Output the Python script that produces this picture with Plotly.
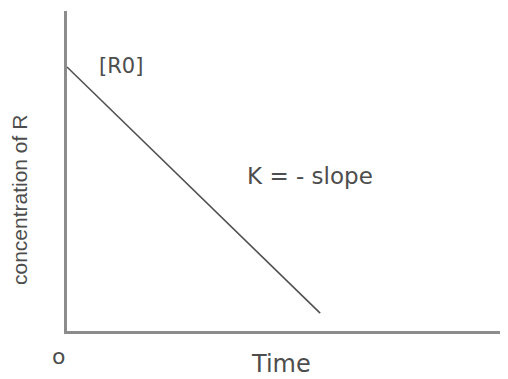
import plotly.graph_objects as go

time = [0, 5.74]
concentration = [8.25, 0.56]
x_range = [0, 10]
y_range = [0, 10]

fig = go.Figure()
fig.add_trace(go.Scatter(x=time, y=concentration, mode="lines",
                         line=dict(color="#505050", width=1.6),
                         showlegend=False, hoverinfo="skip"))

font = dict(family="DejaVu Sans, Liberation Sans, Arial, sans-serif", size=22, color="#4d4d4d")

fig.update_layout(
    width=500, height=371,
    margin=dict(l=59, r=0, t=3, b=48, pad=0),
    paper_bgcolor="white", plot_bgcolor="white",
    font=font,
    xaxis=dict(range=x_range, showgrid=False, zeroline=False, showticklabels=False,
               ticks="", showline=True, linecolor="#8c8c8c", linewidth=3),
    yaxis=dict(range=y_range, showgrid=False, zeroline=False, showticklabels=False,
               ticks="", showline=True, linecolor="#8c8c8c", linewidth=3),
    annotations=[
        dict(text="[R0]", x=1.22, y=8.28, xref="x", yref="y", showarrow=False,
             xanchor="center", yanchor="middle", font=dict(size=21)),
        dict(text="K = - slope", x=5.51, y=4.84, xref="x", yref="y", showarrow=False,
             xanchor="center", yanchor="middle", font=dict(size=23)),
        dict(text="Time", x=0.485, y=-0.103, xref="paper", yref="paper",
             showarrow=False, xanchor="center", yanchor="middle", font=dict(size=24)),
        dict(text="o", x=-0.02, y=-0.081, xref="paper", yref="paper",
             showarrow=False, xanchor="center", yanchor="middle", font=dict(size=22)),
        dict(text="concentration of R", x=-0.109, y=0.409, xref="paper", yref="paper",
             showarrow=False, textangle=-90, xanchor="center", yanchor="middle",
             font=dict(size=21, family="Liberation Sans Narrow, Liberation Sans, Arial")),
    ],
)

fig.write_html("out.html")
